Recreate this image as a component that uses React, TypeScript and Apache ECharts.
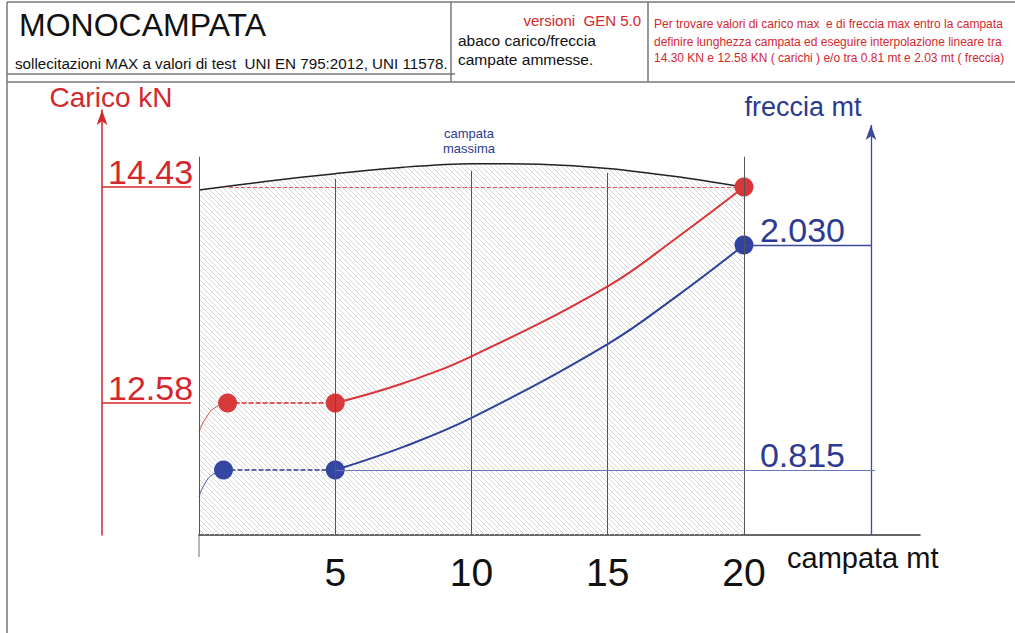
import React, { useEffect, useRef } from "react";
import * as echarts from "echarts";

// ---- data ----
const spanTicks = [5, 10, 15, 20];
const caricoTicks = [12.58, 14.43];
const frecciaTicks = [0.815, 2.03];

// carico (kN) – red
const caricoRiseX = [0, 0.3, 0.65, 1.05];
const caricoRise = [12.33, 12.47, 12.55, 12.58];
const caricoFlatX = [1.05, 5];
const caricoFlat = [12.58, 12.58];
const caricoCurveX = [5, 7.5, 10, 15, 17.5, 20];
const caricoCurve = [12.58, 12.75, 12.98, 13.58, 13.99, 14.43];

// freccia (m) – blue
const frecciaRiseX = [0, 0.25, 0.55, 0.9];
const frecciaRise = [0.67, 0.75, 0.795, 0.815];
const frecciaFlatX = [0.9, 5];
const frecciaFlat = [0.815, 0.815];
const frecciaCurveX = [5, 7.5, 10, 15, 17.5, 20];
const frecciaCurve = [0.815, 0.94, 1.096, 1.495, 1.75, 2.03];

// "campata massima" envelope (in kN scale)
const campataX = [0, 2.5, 5, 7.5, 10, 12.5, 15, 17.5, 20];
const campataMassima = [14.404, 14.48, 14.545, 14.6, 14.63, 14.625, 14.59, 14.52, 14.43];

// guide lines
const guideX = [0, 5, 10, 15, 20];
const guideTop = [14.69, 14.5, 14.57, 14.55, 14.69];

// axis ranges
const CARICO_MIN = 11.45;
const CARICO_MAX = 15.09;
const FRECCIA_MIN = 0.464;
const FRECCIA_MAX = 2.759;
const SPAN_MAX = 26.46;
const FRECCIA_AXIS_AT = 24.66;
const FRECCIA_ARROW_TOP = 2.678;

const RED = "#d3272e";
const BLUE = "#2c3a8f";
const FONT = '"Liberation Sans", Arial, Helvetica, sans-serif';

const zip = (xs: number[], ys: number[]) => xs.map((x, i) => [x, ys[i]]);

function hatchTile(s: number, stroke: string, sw: number) {
  const svg =
    `<svg xmlns='http://www.w3.org/2000/svg' width='${s}' height='${s}'>` +
    `<path d='M0,0 L${s},${s} M-1,${s - 1} L1,${s + 1} M${s - 1},-1 L${s + 1},1' stroke='${stroke}' stroke-width='${sw}' fill='none'/></svg>`;
  return "data:image/svg+xml;charset=utf-8," + encodeURIComponent(svg);
}

const pattern = (s: number, stroke: string, sw: number): any => ({
  image: hatchTile(s, stroke, sw),
  repeat: "repeat",
  imageWidth: s,
  imageHeight: s,
});

function txt(text: string, x: number, y: number, size: number, fill: string, align = "left"): any {
  return {
    type: "text",
    x,
    y,
    silent: true,
    style: {
      text,
      fill,
      fontSize: size,
      fontFamily: FONT,
      align,
      verticalAlign: "middle",
      textAlign: align,
      textVerticalAlign: "middle",
    },
  };
}

function ln(x1: number, y1: number, x2: number, y2: number, color = "#777", w = 1.5): any {
  return {
    type: "line",
    silent: true,
    shape: { x1, y1, x2, y2 },
    style: { stroke: color, lineWidth: w },
  };
}

export default function App() {
  const ref = useRef<HTMLDivElement>(null);

  useEffect(() => {
    if (!ref.current) return;
    const chart = echarts.init(ref.current, undefined, { renderer: "svg" });

    const option: any = {
      animation: false,
      backgroundColor: "#ffffff",
      textStyle: { fontFamily: FONT },
      grid: { left: 199, right: 95, top: 110, bottom: 98 },
      xAxis: {
        type: "value",
        min: 0,
        max: SPAN_MAX,
        interval: 5,
        axisLine: { show: true, onZero: false, lineStyle: { color: "#333", width: 1.5 } },
        axisTick: { show: false },
        splitLine: { show: false },
        axisLabel: {
          customValues: spanTicks,
          formatter: (v: number) => (spanTicks.includes(v) ? String(v) : ""),
          fontSize: 39,
          color: "#111",
          margin: 18,
          fontFamily: FONT,
        },
      },
      yAxis: [
        {
          type: "value",
          position: "left",
          offset: 97,
          min: CARICO_MIN,
          max: CARICO_MAX,
          axisLine: {
            show: true,
            onZero: false,
            symbol: ["none", "arrow"],
            symbolSize: [8, 15],
            lineStyle: { color: RED, width: 1.5 },
          },
          axisTick: {
            show: true,
            inside: true,
            length: 89,
            customValues: caricoTicks,
            lineStyle: { color: RED, width: 1.5 },
          },
          axisLabel: {
            inside: true,
            customValues: caricoTicks,
            formatter: (v: number) => v.toFixed(2),
            color: RED,
            fontSize: 34,
            margin: 6,
            verticalAlign: "bottom",
            lineHeight: 30,
            fontFamily: FONT,
          },
          splitLine: { show: false },
        },
        {
          type: "value",
          position: "right",
          offset: -49,
          min: FRECCIA_MIN,
          max: FRECCIA_MAX,
          axisLine: { show: false },
          axisTick: { show: false },
          axisLabel: {
            inside: true,
            customValues: frecciaTicks,
            formatter: (v: number) => v.toFixed(3),
            color: BLUE,
            fontSize: 34,
            margin: 26,
            verticalAlign: "bottom",
            lineHeight: 30,
            fontFamily: FONT,
          },
          splitLine: { show: false },
        },
      ],
      series: [
        {
          name: "campata massima",
          type: "line",
          yAxisIndex: 0,
          data: zip(campataX, campataMassima),
          smooth: 0.3,
          symbol: "none",
          z: 1,
          lineStyle: { color: "#222", width: 1.5 },
          areaStyle: { color: pattern(5, "#d2d2d2", 0.9), opacity: 1 },
          markLine: {
            silent: true,
            symbol: ["none", "none"],
            label: { show: false },
            lineStyle: { color: "#555", width: 1, type: "solid" },
            data: guideX.map((x, i) => [{ coord: [x, CARICO_MIN] }, { coord: [x, guideTop[i]] }]),
          },
        },
        {
          name: "carico rise",
          type: "line",
          yAxisIndex: 0,
          data: zip(caricoRiseX, caricoRise),
          smooth: 0.6,
          symbol: "none",
          z: 3,
          lineStyle: { color: "#d24a4a", width: 1 },
        },
        {
          name: "carico flat",
          type: "line",
          yAxisIndex: 0,
          data: zip(caricoFlatX, caricoFlat),
          symbol: "none",
          z: 3,
          lineStyle: { color: RED, width: 1.6, type: [5, 2] },
        },
        {
          name: "carico",
          type: "line",
          yAxisIndex: 0,
          data: zip(caricoCurveX, caricoCurve),
          smooth: 0.4,
          symbol: "none",
          z: 3,
          lineStyle: { color: "#d8353a", width: 2 },
          markLine: {
            silent: true,
            symbol: ["none", "none"],
            label: { show: false },
            lineStyle: { color: "rgba(220,60,60,0.8)", width: 1, type: [4, 2] },
            data: [
              [
                { coord: [caricoFlatX[0] + 0.05, caricoCurve[caricoCurve.length - 1]] },
                { coord: [caricoCurveX[caricoCurveX.length - 1], caricoCurve[caricoCurve.length - 1]] },
              ],
            ],
          },
        },
        {
          name: "freccia rise",
          type: "line",
          yAxisIndex: 1,
          data: zip(frecciaRiseX, frecciaRise),
          smooth: 0.6,
          symbol: "none",
          z: 3,
          lineStyle: { color: "#4656a6", width: 1 },
        },
        {
          name: "freccia flat",
          type: "line",
          yAxisIndex: 1,
          data: zip(frecciaFlatX, frecciaFlat),
          symbol: "none",
          z: 3,
          lineStyle: { color: BLUE, width: 1.6, type: [5, 2] },
        },
        {
          name: "freccia",
          type: "line",
          yAxisIndex: 1,
          data: zip(frecciaCurveX, frecciaCurve),
          smooth: 0.4,
          symbol: "none",
          z: 3,
          lineStyle: { color: "#2f4299", width: 2 },
          markLine: {
            silent: true,
            symbol: ["none", "none"],
            label: { show: false },
            data: [
              [
                { coord: [FRECCIA_AXIS_AT, FRECCIA_MIN], symbol: "none" },
                {
                  coord: [FRECCIA_AXIS_AT, FRECCIA_ARROW_TOP],
                  symbol: "arrow",
                  symbolSize: [8, 15],
                },
              ],
              [
                { coord: [20, frecciaTicks[1]] },
                { coord: [FRECCIA_AXIS_AT, frecciaTicks[1]] },
              ],
              [
                { coord: [5, frecciaTicks[0]], lineStyle: { color: "#6a77b8", width: 1.2 } },
                { coord: [FRECCIA_AXIS_AT + 0.15, frecciaTicks[0]] },
              ],
            ],
            lineStyle: { color: "#3d4a98", width: 1.3, type: "solid" },
          },
        },
        {
          name: "carico punti",
          type: "scatter",
          yAxisIndex: 0,
          data: zip(caricoFlatX, caricoFlat),
          symbolSize: 19,
          z: 4,
          itemStyle: { color: "#d83a3c", opacity: 1 },
        },
        {
          name: "carico max",
          type: "scatter",
          yAxisIndex: 0,
          data: [[caricoCurveX[caricoCurveX.length - 1], caricoCurve[caricoCurve.length - 1]]],
          symbolSize: 19,
          z: 4,
          itemStyle: { color: "#d9363a", opacity: 1 },
        },
        {
          name: "freccia punti",
          type: "scatter",
          yAxisIndex: 1,
          data: zip(frecciaFlatX, frecciaFlat),
          symbolSize: 19,
          z: 4,
          itemStyle: { color: "#3346a2", opacity: 1 },
        },
        {
          name: "freccia max",
          type: "scatter",
          yAxisIndex: 1,
          data: [[frecciaCurveX[frecciaCurveX.length - 1], frecciaCurve[frecciaCurve.length - 1]]],
          symbolSize: 19,
          z: 4,
          itemStyle: { color: "#2f43a0", opacity: 1 },
        },
      ],
      graphic: [
        // frame / header
        ln(7, 2, 7, 633),
        ln(7, 2, 1015, 2),
        ln(7, 74, 455, 74),
        ln(7, 82, 1015, 82),
        ln(451, 2, 451, 82),
        ln(648, 2, 648, 82),
        ln(199, 535, 199, 557, "#888", 1.2),
        txt("MONOCAMPATA", 19, 25, 32, "#111"),
        txt("sollecitazioni MAX a valori di test  UNI EN 795:2012, UNI 11578.", 15, 63, 15.2, "#111"),
        txt("versioni  GEN 5.0", 641, 20, 15, RED, "right"),
        txt("abaco carico/freccia", 458, 40, 15.5, "#111"),
        txt("campate ammesse.", 458, 59, 15.5, "#111"),
        txt("Per trovare valori di carico max  e di freccia max entro la campata", 654, 24, 12, RED),
        txt("definire lunghezza campata ed eseguire interpolazione lineare tra", 654, 42, 12, RED),
        txt("14.30 KN e 12.58 KN ( carichi ) e/o tra 0.81 mt e 2.03 mt ( freccia)", 654, 58, 12, RED),
        // axis names
        txt("Carico kN", 111, 97, 28, RED, "center"),
        txt("freccia mt", 803, 107, 27, BLUE, "center"),
        txt("campata", 469, 133, 13, BLUE, "center"),
        txt("massima", 469, 148, 13, BLUE, "center"),
        txt("campata mt", 787, 558, 29, "#111"),
      ],
    };

    chart.setOption(option);
    return () => chart.dispose();
  }, []);

  return <div ref={ref} style={{ width: 1015, height: 633, position: "absolute", left: 0, top: 0 }} />;
}
